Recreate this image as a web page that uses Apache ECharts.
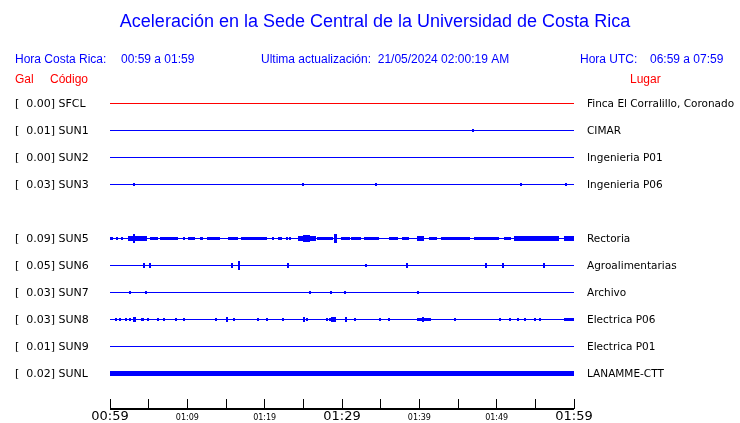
<!DOCTYPE html>
<html>
<head>
<meta charset="utf-8">
<script src="https://cdn.jsdelivr.net/npm/echarts@6/dist/echarts.min.js"></script>
<style>html,body{margin:0;padding:0;background:#fff}#c{width:740px;height:423px}</style>
</head>
<body>
<div id="c"></div>
<script>
// ---- data ----
const codes = ['SFCL','SUN1','SUN2','SUN3','SUN5','SUN6','SUN7','SUN8','SUN9','SUNL'];
const pga = ['0.00','0.01','0.00','0.03','0.09','0.05','0.03','0.03','0.01','0.02'];
const places = ['Finca El Corralillo, Coronado','CIMAR','Ingenieria P01','Ingenieria P06','Rectoria','Agroalimentarias','Archivo','Electrica P06','Electrica P01','LANAMME-CTT'];
const rows = [2,3,4,5,7,8,9,10,11,12];
const tickLabels = ['00:59','','01:09','','01:19','','01:29','','01:39','','01:49','','01:59'];
const rowMin = 1, rowMax = 13.3;

// spikes: [startMin, endMin, amplitude (row units)]
const spikesSFCL = [];
const spikesSUN1 = [[46.8,46.8,0.04]];
const spikesSUN2 = [];
const spikesSUN3 = [[3.0,3.1,0.05],[24.8,24.8,0.04],[34.3,34.3,0.04],[53.0,53.0,0.04],[58.8,58.8,0.04]];
const spikesSUN5 = [[0,0.4,0.05],[0.8,0.8,0.04],[1.4,1.7,0.05],[2.3,4.8,0.06],[3.0,3.2,0.15],[5.2,6.2,0.05],[6.5,8.8,0.05],[9.4,9.4,0.04],[10.1,11.0,0.05],[11.6,12.0,0.04],[12.5,14.2,0.05],[15.2,16.5,0.05],[17.0,20.3,0.05],[21.0,21.0,0.04],[21.7,22.3,0.04],[22.8,22.8,0.04],[23.2,23.2,0.04],[24.3,26.7,0.07],[24.9,25.9,0.1],[26.8,28.8,0.05],[29.0,29.3,0.15],[29.9,31.0,0.05],[31.2,32.5,0.04],[32.9,34.8,0.05],[36.1,37.2,0.04],[37.7,38.7,0.05],[39.7,40.6,0.08],[41.3,42.3,0.05],[42.8,46.5,0.05],[47.1,50.3,0.05],[51.0,51.9,0.04],[52.3,58.1,0.06],[52.5,54.2,0.08],[58.7,60,0.08]];
const spikesSUN6 = [[4.3,4.3,0.07],[5.0,5.1,0.08],[15.7,15.7,0.06],[16.6,16.7,0.15],[22.9,22.9,0.06],[33.0,33.0,0.05],[38.3,38.3,0.06],[48.5,48.5,0.06],[50.7,50.7,0.07],[56.0,56.0,0.07]];
const spikesSUN7 = [[2.4,2.6,0.05],[4.5,4.7,0.05],[25.7,25.9,0.05],[28.5,28.7,0.05],[30.2,30.2,0.04],[39.7,39.7,0.04]];
const spikesSUN8 = [[0.65,0.9,0.04],[1.16,1.16,0.05],[1.94,1.94,0.04],[2.45,2.45,0.05],[2.97,3.35,0.07],[4.0,4.39,0.05],[4.77,4.77,0.05],[6.06,6.06,0.05],[6.84,6.84,0.05],[8.39,8.39,0.05],[9.42,9.42,0.04],[13.55,13.55,0.05],[14.97,14.97,0.06],[15.87,15.87,0.04],[18.97,18.97,0.04],[20.13,20.13,0.05],[22.19,22.19,0.04],[24.9,25.2,0.07],[25.4,25.55,0.05],[27.87,27.87,0.05],[28.26,28.26,0.05],[28.6,29.2,0.07],[30.45,30.6,0.06],[31.6,31.6,0.04],[34.8,34.8,0.05],[35.9,35.9,0.04],[39.7,41.5,0.05],[40.3,40.6,0.07],[44.5,44.5,0.04],[50.3,50.3,0.05],[51.6,51.6,0.05],[52.6,52.6,0.04],[53.5,53.5,0.05],[54.8,54.8,0.04],[55.5,55.5,0.05],[58.7,60,0.05]];
const spikesSUN9 = [];
const spikesSUNL = [[0,60,0.075]];

const spikeLists = [spikesSFCL,spikesSUN1,spikesSUN2,spikesSUN3,spikesSUN5,spikesSUN6,spikesSUN7,spikesSUN8,spikesSUN9,spikesSUNL];
const traceColors = ['#ff0000','#0000ff','#0000ff','#0000ff','#0000ff','#0000ff','#0000ff','#0000ff','#0000ff','#0000ff'];

const BLUE = '#0000ff', RED = '#ff0000';
const rowIndexOf = {};
rows.forEach((r,i)=>rowIndexOf[r]=i);

function renderItem(params, api){
  const s = api.value(0), e = api.value(1), row = api.value(2), amp = api.value(3);
  const c = api.coord([s,row]);
  const c2 = api.coord([e,row]);
  const ca = api.coord([s,row+amp]);
  const half = amp === 0 ? 0 : Math.max(1, Math.round(Math.abs(ca[1]-c[1])));
  const h = half*2 + 1;
  const x0 = Math.round(c[0]);
  const w = Math.max(Math.round(c2[0]) - x0, amp===0?0:2);
  const y0 = Math.floor(c[1]) - half;
  return {type:'rect', shape:{x:x0, y:y0, width:w, height:h}, style:{fill: api.visual('color')}};
}

const series = codes.map((code,i)=>{
  const data = [[0,60,rows[i],0]].concat(spikeLists[i].map(sp=>[sp[0],sp[1],rows[i],sp[2]]));
  return {type:'custom', name:code, renderItem, data, clip:false, itemStyle:{color:traceColors[i]}, encode:{x:[0,1], y:2}, silent:true, animation:false};
});

// time-axis base line drawn as a line series along the bottom of the row scale
series.push({type:'line', name:'axisBase', data:[[0,rowMax],[60,rowMax]], symbol:'none', silent:true, animation:false, clip:false, z:20,
  lineStyle:{color:'#000', width:2}});

const chart = echarts.init(document.getElementById('c'), null, {renderer:'canvas'});
chart.setOption({
  animation:false,
  backgroundColor:'#fff',
  grid:{left:110, right:166, top:77, bottom:14},
  xAxis:{type:'value', min:0, max:60, interval:5, position:'bottom',
    axisLine:{show:false, onZero:false},
    axisTick:{show:true, inside:true, length:10, lineStyle:{color:'#000', width:1}},
    splitLine:{show:false},
    axisLabel:{margin:1, color:'#000', fontFamily:'DejaVu Sans',
      formatter:function(v){const t=tickLabels[Math.round(v/5)]; if(!t) return ''; return (v%30===0)?'{b|'+t+'}':'{s|'+t+'}';},
      rich:{b:{fontSize:13, fontFamily:'DejaVu Sans', color:'#000'}, s:{fontSize:8, fontFamily:'DejaVu Sans', color:'#000', padding:[4,0,0,0]}}
    }
  },
  yAxis:[
    {type:'value', inverse:true, min:rowMin, max:rowMax, interval:1, position:'left',
      axisLine:{show:false}, axisTick:{show:false}, splitLine:{show:false},
      axisLabel:{show:true, showMaxLabel:false, showMinLabel:false, margin:95, align:'left', color:'#000', fontFamily:'DejaVu Sans', fontSize:11,
        formatter:function(v){const i=rowIndexOf[Math.round(v)]; if(i===undefined) return ''; return '[  '+pga[i]+'] '+codes[i];}}
    },
    {type:'value', inverse:true, min:rowMin, max:rowMax, interval:1, position:'right',
      axisLine:{show:false}, axisTick:{show:false}, splitLine:{show:false},
      axisLabel:{show:true, showMaxLabel:false, showMinLabel:false, margin:13, align:'left', color:'#000', fontFamily:'DejaVu Sans', fontSize:10.5,
        formatter:function(v){const i=rowIndexOf[Math.round(v)]; if(i===undefined) return ''; return places[i];}}
    }
  ],
  graphic:[
    {type:'text', x:375, y:22, style:{text:'Aceleración en la Sede Central de la Universidad de Costa Rica', fill:BLUE, font:'18px "Liberation Sans"', textAlign:'center', textVerticalAlign:'middle'}},
    {type:'text', x:15, y:60, style:{text:'Hora Costa Rica:', fill:BLUE, font:'12px "Liberation Sans"', textVerticalAlign:'middle'}},
    {type:'text', x:121, y:60, style:{text:'00:59 a 01:59', fill:BLUE, font:'12px "Liberation Sans"', textVerticalAlign:'middle'}},
    {type:'text', x:261, y:60, style:{text:'Ultima actualización:  21/05/2024 02:00:19 AM', fill:BLUE, font:'12px "Liberation Sans"', textVerticalAlign:'middle'}},
    {type:'text', x:580, y:60, style:{text:'Hora UTC:', fill:BLUE, font:'12px "Liberation Sans"', textVerticalAlign:'middle'}},
    {type:'text', x:650, y:60, style:{text:'06:59 a 07:59', fill:BLUE, font:'12px "Liberation Sans"', textVerticalAlign:'middle'}},
    {type:'text', x:15, y:80, style:{text:'Gal', fill:RED, font:'12px "Liberation Sans"', textVerticalAlign:'middle'}},
    {type:'text', x:50, y:80, style:{text:'Código', fill:RED, font:'12px "Liberation Sans"', textVerticalAlign:'middle'}},
    {type:'text', x:630, y:80, style:{text:'Lugar', fill:RED, font:'12px "Liberation Sans"', textVerticalAlign:'middle'}}
  ],
  series: series
});
</script>
</body>
</html>
